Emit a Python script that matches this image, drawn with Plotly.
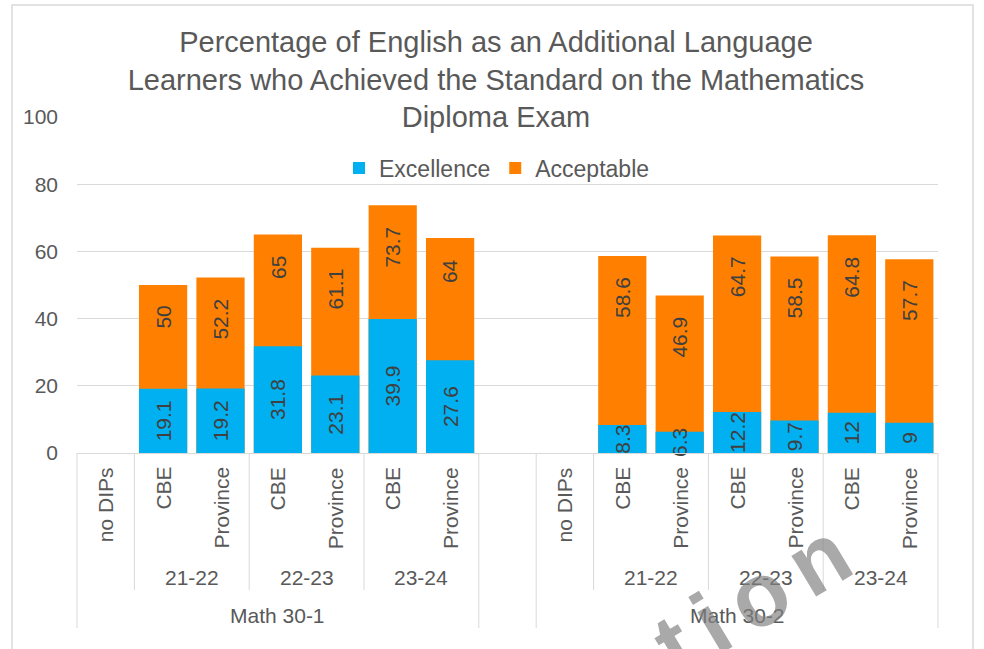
import plotly.graph_objects as go

subjects = ["Math 30-1", "Math 30-2"]
years = ["21-22", "22-23", "23-24"]
sources = ["CBE", "Province"]
empty_label = "no DIPs"

excellence_30_1 = [19.1, 19.2, 31.8, 23.1, 39.9, 27.6]
acceptable_30_1 = [50, 52.2, 65, 61.1, 73.7, 64]
excellence_30_2 = [8.3, 6.3, 12.2, 9.7, 12, 9]
acceptable_30_2 = [58.6, 46.9, 64.7, 58.5, 64.8, 57.7]

y_ticks = [0, 20, 40, 60, 80, 100]

title = ("Percentage of English as an Additional Language<br>"
         "Learners who Achieved the Standard on the Mathematics<br>"
         "Diploma Exam")
watermark = "Information"

BLUE = "#00B0F0"
ORANGE = "#FF8000"
GRID = "#D9D9D9"
TXT = "#595959"
LBL = "#404040"
FONT = "Liberation Sans, Arial, sans-serif"

W, H = 984, 649
L, T = 77, 117
plot_w, plot_h = 861, 336
R = W - L - plot_w
B = H - T - plot_h


def paper_x(px):
    return (px - L) / plot_w


def paper_y(py):
    return (T + plot_h - py) / plot_h


# one slot for "no DIPs", one per year/source, then a blank slot between subjects
block = 1 + len(years) * len(sources)
stride = block + 1

xs, exc, acc = [], [], []
for s, (e_vals, a_vals) in enumerate([(excellence_30_1, acceptable_30_1),
                                       (excellence_30_2, acceptable_30_2)]):
    base = s * stride
    for k in range(len(e_vals)):
        xs.append(base + 1 + k)
        exc.append(e_vals[k])
        acc.append(a_vals[k])

fig = go.Figure()

fig.add_trace(go.Bar(
    x=xs, y=acc, name="Acceptable", width=0.84,
    marker=dict(color=ORANGE, line=dict(width=0)),
    legendrank=2, hoverinfo="skip"))

fig.add_trace(go.Bar(
    x=xs, y=exc, name="Excellence", width=0.84,
    marker=dict(color=BLUE, line=dict(width=0)),
    text=[f"{v:g}" for v in exc], textposition="inside",
    insidetextanchor="middle", textangle=-90, constraintext="none",
    cliponaxis=False,
    textfont=dict(family=FONT, size=21, color=LBL),
    legendrank=1, hoverinfo="skip"))

annotations = []

# acceptable labels, near the top inside the bar
for x, a in zip(xs, acc):
    annotations.append(dict(
        x=x, y=a, xref="x", yref="y", text=f"{a:g}", textangle=-90,
        xanchor="center", yanchor="top", yshift=-19, showarrow=False,
        font=dict(family=FONT, size=21, color=LBL)))

# three level category axis
shapes = []
leaf_font = dict(family=FONT, size=21, color=TXT)
for s, subj in enumerate(subjects):
    base = s * stride
    annotations.append(dict(
        x=base, y=0, xref="x", yref="paper", text=empty_label, textangle=-90,
        xanchor="center", yanchor="top", yshift=-12, showarrow=False,
        font=leaf_font))
    for yi, yr in enumerate(years):
        for gi, src in enumerate(sources):
            annotations.append(dict(
                x=base + 1 + yi * 2 + gi, y=0, xref="x", yref="paper",
                text=src, textangle=-90, xanchor="center", yanchor="top",
                yshift=-12, showarrow=False, font=leaf_font))
        annotations.append(dict(
            x=base + 1 + yi * 2 + 0.5, y=0, xref="x", yref="paper", text=yr,
            xanchor="center", yanchor="middle", yshift=-124, showarrow=False,
            font=leaf_font))
        shapes.append(dict(
            type="line", xref="x", yref="paper",
            x0=base + 0.5 + yi * 2, x1=base + 0.5 + yi * 2,
            y0=0, y1=paper_y(590), line=dict(color=GRID, width=1)))
    annotations.append(dict(
        x=base + (block - 1) / 2, y=0, xref="x", yref="paper", text=subj,
        xanchor="center", yanchor="middle", yshift=-162, showarrow=False,
        font=leaf_font))

for xv in [block - 0.5, block + 0.5]:
    shapes.append(dict(type="line", xref="x", yref="paper", x0=xv, x1=xv,
                       y0=0, y1=paper_y(628), line=dict(color=GRID, width=1)))
for xp in [0, 1]:
    shapes.append(dict(type="line", xref="paper", yref="paper", x0=xp, x1=xp,
                       y0=0, y1=paper_y(628), line=dict(color=GRID, width=1)))

# chart area border
shapes.append(dict(type="rect", xref="paper", yref="paper",
                   x0=paper_x(12), x1=paper_x(973), y0=paper_y(700), y1=paper_y(5),
                   line=dict(color=GRID, width=1.5), layer="below"))

# watermark, mostly outside the picture
annotations.append(dict(
    x=paper_x(572), y=paper_y(707), xref="paper", yref="paper",
    xanchor="center", yanchor="middle",
    text=f"<span style='letter-spacing:15px'><b>{watermark}</b></span>",
    textangle=-31, showarrow=False,
    font=dict(family=FONT, size=90, color="rgba(128,128,128,0.68)")))

fig.update_layout(
    width=W, height=H,
    margin=dict(l=L, r=R, t=T, b=B),
    barmode="overlay",
    paper_bgcolor="white", plot_bgcolor="white",
    title=dict(text=title, x=496 / W, xanchor="center", xref="container",
               y=1 - 52 / H, yanchor="top", yref="container",
               font=dict(family=FONT, size=29, color=TXT)),
    legend=dict(orientation="h", x=paper_x(497), xanchor="center",
                y=paper_y(168), yanchor="middle",
                font=dict(family=FONT, size=23, color=TXT),
                bgcolor="rgba(0,0,0,0)"),
    xaxis=dict(range=[-0.5, stride + block - 0.5], showticklabels=False,
               showgrid=False, zeroline=False, showline=True,
               linecolor=GRID, linewidth=1, ticks=""),
    yaxis=dict(range=[0, 100], tickvals=y_ticks, showgrid=True,
               gridcolor=GRID, gridwidth=1, zeroline=False, showline=False,
               ticklabelstandoff=18,
               tickfont=dict(family=FONT, size=21, color=TXT)),
    annotations=annotations,
    shapes=shapes,
    showlegend=True,
)

# drop the default 8px page margin so the figure fills the window
fig.write_html("out.html", config={"displayModeBar": False},
               post_script="document.body.style.margin = '0';")
